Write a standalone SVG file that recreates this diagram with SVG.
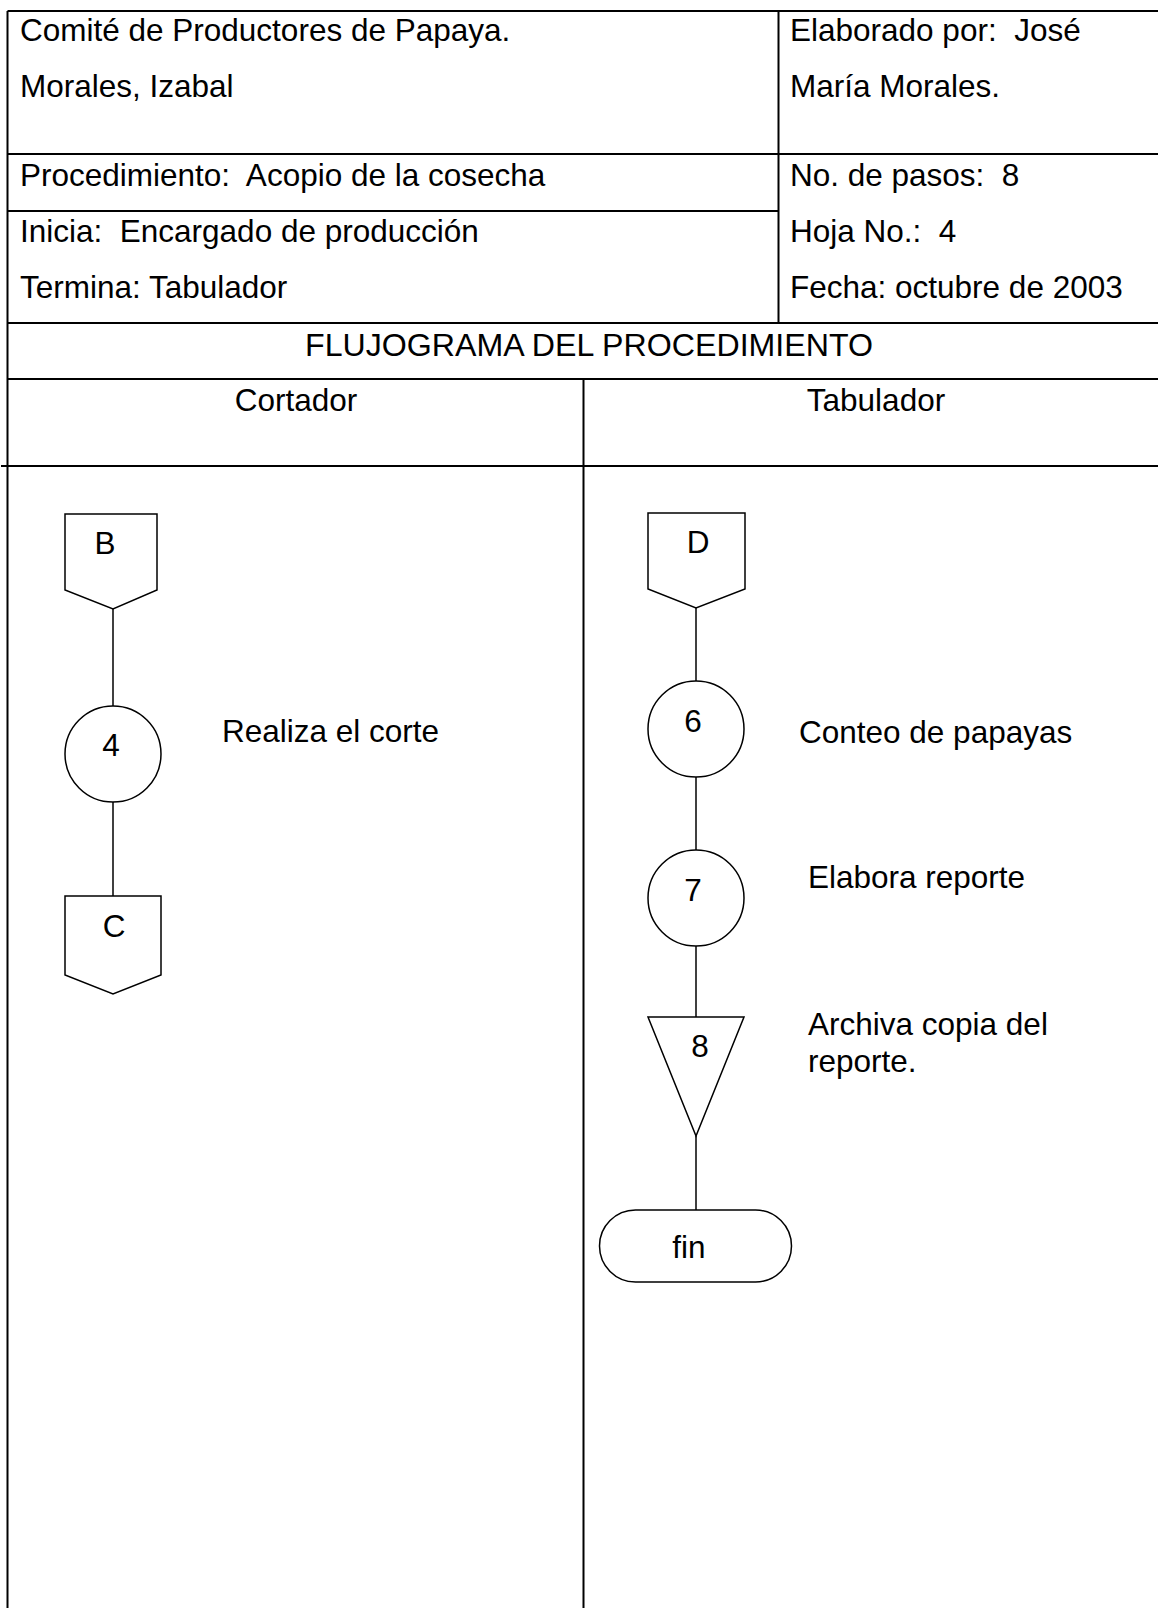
<svg xmlns="http://www.w3.org/2000/svg" width="1158" height="1608" viewBox="0 0 1158 1608">
<style>
.grid{stroke:#000;stroke-width:2;fill:none}
.shape{stroke:#000;stroke-width:1.5;fill:#fff}
.conn{stroke:#000;stroke-width:1.5;fill:none}
.hd{font-family:"Liberation Sans",Arial,sans-serif;font-size:31.5px;fill:#000;white-space:pre}
.tx{font-family:"Liberation Sans",Arial,sans-serif;font-size:31.5px;fill:#000}
.c{text-anchor:middle}
</style>
<rect width="1158" height="1608" fill="#fff"/>
<g id="table">
<line class="grid" x1="7.5" y1="11" x2="1158" y2="11"/>
<line class="grid" x1="7.5" y1="11" x2="7.5" y2="1608"/>
<line class="grid" x1="778.5" y1="11" x2="778.5" y2="323"/>
<line class="grid" x1="7.5" y1="154" x2="1158" y2="154"/>
<line class="grid" x1="7.5" y1="211" x2="778.5" y2="211"/>
<line class="grid" x1="7.5" y1="323" x2="1158" y2="323"/>
<line class="grid" x1="7.5" y1="379" x2="1158" y2="379"/>
<line class="grid" x1="583.5" y1="379" x2="583.5" y2="1608"/>
<line class="grid" x1="1" y1="466" x2="1158" y2="466"/>
</g>
<g id="header">
<text class="hd" xml:space="preserve" x="20" y="41">Comité de Productores de Papaya.</text>
<text class="hd" xml:space="preserve" x="20" y="97">Morales, Izabal</text>
<text class="hd" xml:space="preserve" x="790" y="41">Elaborado por:  José</text>
<text class="hd" xml:space="preserve" x="790" y="97">María Morales.</text>
<text class="hd" xml:space="preserve" x="20" y="186">Procedimiento:  Acopio de la cosecha</text>
<text class="hd" xml:space="preserve" x="790" y="186">No. de pasos:  8</text>
<text class="hd" xml:space="preserve" x="20" y="242">Inicia:  Encargado de producción</text>
<text class="hd" xml:space="preserve" x="790" y="242">Hoja No.:  4</text>
<text class="hd" xml:space="preserve" x="20" y="298">Termina: Tabulador</text>
<text class="hd" xml:space="preserve" x="790" y="298">Fecha: octubre de 2003</text>
<text class="hd c" x="589" y="356" textLength="568" lengthAdjust="spacingAndGlyphs">FLUJOGRAMA DEL PROCEDIMIENTO</text>
<text class="hd c" x="296" y="411">Cortador</text>
<text class="hd c" x="876" y="411">Tabulador</text>
</g>
<g id="connectors">
<line class="conn" x1="113" y1="609" x2="113" y2="706"/>
<line class="conn" x1="113" y1="802" x2="113" y2="896"/>
<line class="conn" x1="696" y1="608" x2="696" y2="681"/>
<line class="conn" x1="696" y1="777" x2="696" y2="850"/>
<line class="conn" x1="696" y1="946" x2="696" y2="1017"/>
<line class="conn" x1="696" y1="1136" x2="696" y2="1210"/>
</g>
<g id="node-B">
<polygon class="shape" points="65,514 157,514 157,590 113,609 65,590"/>
<text class="tx c" x="105" y="554">B</text>
</g>
<g id="node-4">
<circle class="shape" cx="113" cy="754" r="48"/>
<text class="tx c" x="111" y="756">4</text>
<text class="tx" x="222" y="742">Realiza el corte</text>
</g>
<g id="node-C">
<polygon class="shape" points="65,896 161,896 161,975 113,994 65,975"/>
<text class="tx c" x="114" y="937">C</text>
</g>
<g id="node-D">
<polygon class="shape" points="648,513 745,513 745,589 696,608 648,589"/>
<text class="tx c" x="698" y="553">D</text>
</g>
<g id="node-6">
<circle class="shape" cx="696" cy="729" r="48"/>
<text class="tx c" x="693" y="732">6</text>
<text class="tx" x="799" y="743">Conteo de papayas</text>
</g>
<g id="node-7">
<circle class="shape" cx="696" cy="898" r="48"/>
<text class="tx c" x="693" y="901">7</text>
<text class="tx" x="808" y="888">Elabora reporte</text>
</g>
<g id="node-8">
<polygon class="shape" points="648,1017 744,1017 696,1136"/>
<text class="tx c" x="700" y="1057">8</text>
<text class="tx" x="808" y="1035">Archiva copia del</text>
<text class="tx" x="808" y="1072">reporte.</text>
</g>
<g id="node-fin">
<rect class="shape" x="599.5" y="1210" width="192" height="72" rx="36" ry="36"/>
<text class="tx c" x="689" y="1258">fin</text>
</g>
</svg>
